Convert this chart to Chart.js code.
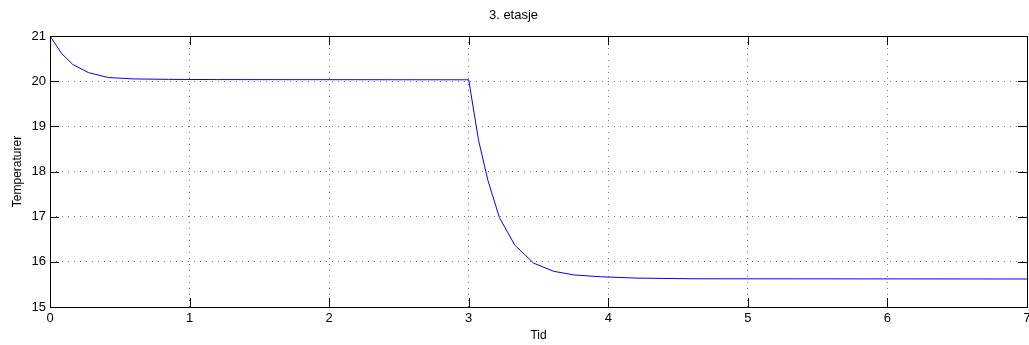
<!DOCTYPE html>
<html lang="no">
<head>
    <meta charset="UTF-8">
    <title>3. etasje</title>
    <script src="https://cdn.jsdelivr.net/npm/chart.js"></script>
    <style>
        body {
            margin: 0;
            padding: 0;
            background-color: white;
        }
        canvas {
            display: block;
        }
    </style>
</head>
<body>
    <canvas id="tempChart" width="1029" height="345"></canvas>

    <script>
        // Data
        var tid = [0, 0.084, 0.163, 0.275, 0.418, 0.6, 0.85, 1.2, 3.0, 3.07, 3.136, 3.22, 3.33, 3.466, 3.609, 3.753, 3.944, 4.2, 4.6, 7.0];
        var temperatur = [21, 20.61, 20.37, 20.19, 20.08, 20.05, 20.04, 20.035, 20.03, 18.70, 17.82, 16.98, 16.37, 15.97, 15.79, 15.71, 15.67, 15.64, 15.625, 15.62];
        var xTicks = [0, 1, 2, 3, 4, 5, 6, 7];
        var yTicks = [15, 16, 17, 18, 19, 20, 21];

        var points = tid.map(function (t, i) { return { x: t, y: temperatur[i] }; });

        var fontFamily = "'Liberation Sans', Arial, Helvetica, sans-serif";

        // MATLAB style: black box with inward tick marks on all four sides
        var boxPlugin = {
            id: 'box',
            afterDatasetsDraw: function (chart) {
                var ctx = chart.ctx;
                var a = chart.chartArea;
                var xs = chart.scales.x, ys = chart.scales.y;
                var len = 9;
                ctx.save();
                ctx.strokeStyle = '#000';
                ctx.lineWidth = 1;
                ctx.setLineDash([]);
                ctx.beginPath();
                xTicks.forEach(function (v) {
                    var px = Math.round(xs.getPixelForValue(v)) + 0.5;
                    ctx.moveTo(px, a.bottom); ctx.lineTo(px, a.bottom - len);
                    ctx.moveTo(px, a.top); ctx.lineTo(px, a.top + len);
                });
                yTicks.forEach(function (v) {
                    var py = Math.round(ys.getPixelForValue(v)) + 0.5;
                    ctx.moveTo(a.left, py); ctx.lineTo(a.left + len, py);
                    ctx.moveTo(a.right, py); ctx.lineTo(a.right - len, py);
                });
                ctx.stroke();
                ctx.strokeRect(Math.round(a.left) + 0.5, Math.round(a.top) + 0.5,
                    Math.round(a.right - a.left), Math.round(a.bottom - a.top));
                ctx.restore();
            }
        };

        var ctx = document.getElementById('tempChart').getContext('2d');
        var tempChart = new Chart(ctx, {
            type: 'line',
            data: {
                datasets: [{
                    data: points,
                    borderColor: '#0000ff',
                    borderWidth: 1,
                    pointRadius: 0,
                    tension: 0,
                    fill: false
                }]
            },
            options: {
                responsive: false,
                animation: false,
                devicePixelRatio: 1,
                layout: { padding: { left: 0, right: 2, top: 0, bottom: 0 } },
                plugins: {
                    legend: { display: false },
                    tooltip: { enabled: false },
                    title: {
                        display: true,
                        text: '3. etasje',
                        color: '#000',
                        font: { family: fontFamily, size: 13, weight: 'normal' },
                        padding: { top: 8, bottom: 12.4 }
                    }
                },
                scales: {
                    x: {
                        type: 'linear',
                        min: 0,
                        max: 7,
                        afterBuildTicks: function (scale) {
                            scale.ticks = xTicks.map(function (v) { return { value: v }; });
                        },
                        afterFit: function (scale) {
                            scale.height = 38;
                            scale.paddingLeft = 0;
                            scale.paddingRight = 0;
                        },
                        border: { display: false, dash: [1, 5] },
                        grid: {
                            color: '#777',
                            lineWidth: 1,
                            drawTicks: false
                        },
                        ticks: {
                            color: '#000',
                            padding: 4,
                            maxRotation: 0,
                            font: { family: fontFamily, size: 13 }
                        },
                        title: {
                            display: true,
                            text: 'Tid',
                            color: '#000',
                            font: { family: fontFamily, size: 12 },
                            padding: { top: 0, bottom: 2 }
                        }
                    },
                    y: {
                        min: 15,
                        max: 21,
                        afterBuildTicks: function (scale) {
                            scale.ticks = yTicks.map(function (v) { return { value: v }; });
                        },
                        afterFit: function (scale) { scale.width = 50; },
                        border: { display: false, dash: [1, 5] },
                        grid: {
                            color: '#777',
                            lineWidth: 1,
                            drawTicks: false
                        },
                        ticks: {
                            color: '#000',
                            padding: 4,
                            font: { family: fontFamily, size: 13 }
                        },
                        title: {
                            display: true,
                            text: 'Temperaturer',
                            color: '#000',
                            font: { family: fontFamily, size: 12 },
                            padding: { top: 10, bottom: 0 }
                        }
                    }
                }
            },
            plugins: [boxPlugin]
        });
    </script>
</body>
</html>
